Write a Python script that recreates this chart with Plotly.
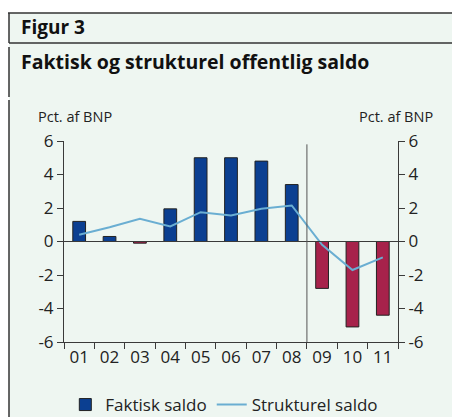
import plotly.graph_objects as go

years = ["01", "02", "03", "04", "05", "06", "07", "08", "09", "10", "11"]
faktisk = [1.2, 0.3, -0.1, 1.95, 5.0, 5.0, 4.8, 3.4, -2.8, -5.1, -4.4]
strukturel = [0.4, 0.85, 1.35, 0.9, 1.75, 1.55, 1.95, 2.15, -0.2, -1.7, -0.95]
y_ticks = [-6, -4, -2, 0, 2, 4, 6]
y_ticktext = ["-6", "-4", "-2", "0", "2", "4", "6"]

BLUE = "#0b3f91"
RED = "#a7224b"
LINE = "#6aaed2"
BG = "#eef6f1"
AX = "#3a3a3a"
FONT = "Open Sans"

bar_colors = [BLUE if v >= 0 else RED for v in faktisk]

fig = go.Figure()
fig.add_trace(go.Bar(
    x=years, y=faktisk, name="Faktisk saldo",
    marker=dict(color=bar_colors, line=dict(color="#222222", width=1)),
    width=0.42,
))
fig.add_trace(go.Scatter(
    x=years, y=strukturel, name="Strukturel saldo", mode="lines",
    line=dict(color=LINE, width=2),
))
# invisible trace for right axis
fig.add_trace(go.Scatter(x=years, y=faktisk, yaxis="y2", mode="lines",
                         line=dict(width=0), showlegend=False, hoverinfo="skip"))

axis_common = dict(
    range=[-6, 6], tickvals=y_ticks, ticktext=y_ticktext, ticks="outside",
    ticklen=6, tickcolor=AX, automargin=False,
    showline=True, linecolor=AX, linewidth=1, showgrid=False, zeroline=False,
    tickfont=dict(family=FONT, size=17, color="#222222"),
)

W, H = 452, 409
L, R, T, B = 56, 62, 133, 75
PW, PH = W - L - R, H - T - B  # 334 x 201

fig.update_layout(
    width=W, height=H,
    margin=dict(l=L, r=R, t=T, b=B, autoexpand=False),
    paper_bgcolor=BG, plot_bgcolor=BG,
    font=dict(family=FONT, color="#222222"),
    xaxis=dict(
        type="category", tickson="boundaries", ticks="outside", ticklen=6,
        tickcolor=AX, showline=True, linecolor=AX, showgrid=False, automargin=False,
        tickfont=dict(family=FONT, size=17, color="#222222"),
        range=[-0.5, 10.5],
    ),
    yaxis=dict(**axis_common, side="left"),
    yaxis2=dict(**axis_common, side="right", overlaying="y"),
    showlegend=True,
    legend=dict(orientation="h", x=0.48, xanchor="center", y=-63/PH, yanchor="middle",
                font=dict(family=FONT, size=17, color="#222222"),
                bgcolor="rgba(0,0,0,0)", itemwidth=30, tracegroupgap=0),
    shapes=[
        # white strip above the frame
        dict(type="rect", xref="paper", yref="paper", layer="below",
             x0=-L/PW, x1=1+R/PW, y0=1+128/PH, y1=1+T/PH,
             fillcolor="white", line=dict(width=0)),
        dict(type="rect", xref="paper", yref="paper", layer="below",
             x0=-L/PW, x1=-55/PW, y0=-B/PH, y1=1+T/PH,
             fillcolor="white", line=dict(width=0)),
        # frame lines
        dict(type="line", xref="paper", yref="paper", x0=-56/PW, x1=1+R/PW,
             y0=1+128/PH, y1=1+128/PH, line=dict(color="#333333", width=1.5)),
        dict(type="line", xref="paper", yref="paper", x0=-55/PW, x1=1+R/PW,
             y0=1+98/PH, y1=1+98/PH, line=dict(color="#333333", width=1.5)),
        dict(type="line", xref="paper", yref="paper", x0=-55/PW, x1=-55/PW,
             y0=1+128/PH, y1=1+98/PH, line=dict(color="#333333", width=1.5)),
        dict(type="line", xref="paper", yref="paper", x0=-55/PW, x1=-55/PW,
             y0=1+94/PH, y1=1+44/PH, line=dict(color="#333333", width=1.5)),
        dict(type="line", xref="paper", yref="paper", x0=-55/PW, x1=-55/PW,
             y0=1+41/PH, y1=-B/PH, line=dict(color="#333333", width=1.5)),
        # zero line
        dict(type="line", xref="paper", yref="y", x0=0, x1=1, y0=0, y1=0,
             line=dict(color=AX, width=1)),
        # separator between 08 and 09
        dict(type="line", xref="x", yref="y", x0=7.5, x1=7.5, y0=-6, y1=5.8,
             line=dict(color="#555555", width=1)),
    ],
    annotations=[
        dict(text="<b>Figur 3</b>", xref="paper", yref="paper", x=-45/PW,
             y=1+114/PH, xanchor="left", yanchor="middle", showarrow=False,
             font=dict(family=FONT, size=19, color="#111111")),
        dict(text="<b>Faktisk og strukturel offentlig saldo</b>", xref="paper",
             yref="paper", x=-45/PW, y=1+80/PH, xanchor="left", yanchor="middle",
             showarrow=False, font=dict(family=FONT, size=19.5, color="#111111")),
        dict(text="Pct. af BNP", xref="paper", yref="paper", x=-28/PW,
             y=1+25/PH, xanchor="left", yanchor="middle", showarrow=False,
             font=dict(family=FONT, size=14.5, color="#222222")),
        dict(text="Pct. af BNP", xref="paper", yref="paper", x=1+37/PW,
             y=1+25/PH, xanchor="right", yanchor="middle", showarrow=False,
             font=dict(family=FONT, size=14.5, color="#222222")),
    ],
)

fig.write_html("out.html")
